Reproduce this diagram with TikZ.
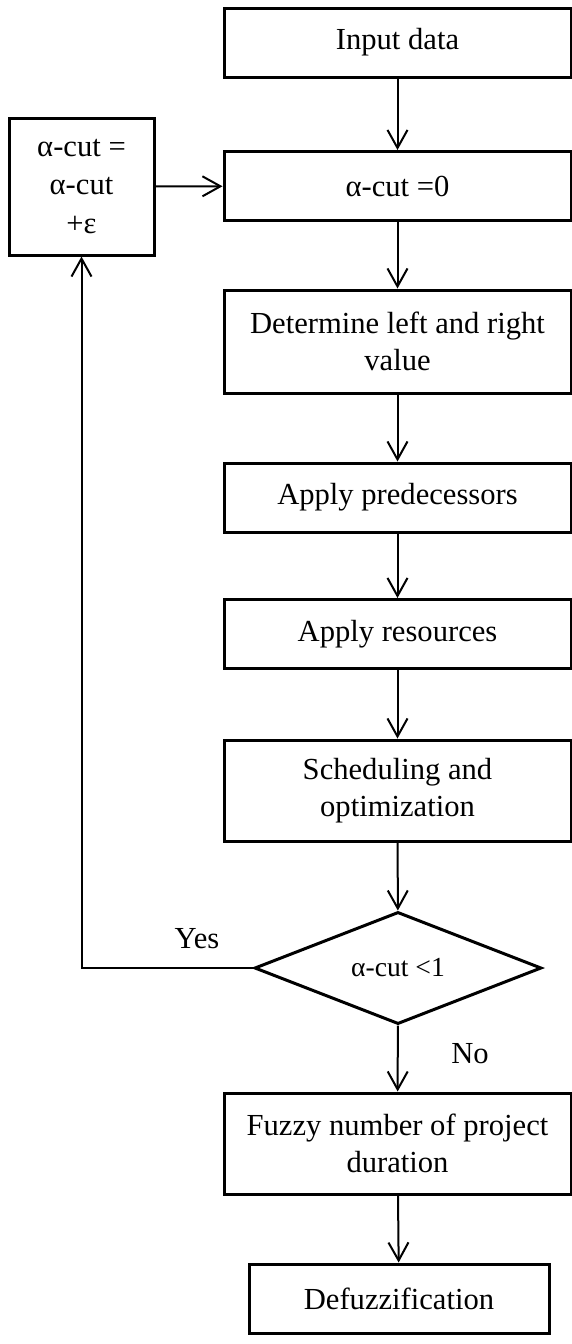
\documentclass[tikz,border=0pt]{standalone}
\usepackage{fontspec}
\setmainfont{Liberation Serif}
\usetikzlibrary{arrows.meta,shapes.geometric}

\begin{document}
\begin{tikzpicture}[x=0.5pt, y=-0.5pt,
    box/.style={draw, line width=1.5pt, minimum width=173.5pt, minimum height=34.5pt,
        align=center, inner sep=2pt, font=\fontsize{15.3}{18.5}\selectfont},
    flow/.style={-{Straight Barb[length=9pt,width=10pt]}, line width=1pt}]
    \useasboundingbox (0, 0) rectangle (572, 1344);

    \node[box] (input) at (397.5, 42.5) {Input data};
    \node[box] (init) at (397.5, 186) {α-cut =0};
    \node[box, minimum width=72.5pt, minimum height=68.5pt, font=\fontsize{15.3}{19.2}\selectfont]
        (update) at (81.5, 186.5) {α-cut =\\α-cut\\+ε};
    \node[box, minimum height=51.5pt] (bounds) at (397.5, 341.5) {Determine left and right\\value};
    \node[box] (preds) at (397.5, 497.5) {Apply predecessors};
    \node[box] (res) at (397.5, 634) {Apply resources};
    \node[box, minimum height=50.5pt] (sched) at (397.5, 790.5) {Scheduling and\\optimization};
    \node[box, diamond, minimum width=143.5pt, minimum height=56pt, inner sep=0pt,
        font=\fontsize{13.8}{16}\selectfont] (check) at (398, 968) {α-cut <1};
    \node[box, minimum height=50.5pt] (fuzzy) at (397.5, 1143.5) {Fuzzy number of project\\duration};
    \node[box, minimum width=150pt] (defuzz) at (399, 1298.5) {Defuzzification};

    % main flow
    \draw[flow] (input) -- (init);
    \draw[flow] (init) -- (bounds);
    \draw[flow] (bounds) -- (preds);
    \draw[flow] (preds) -- (res);
    \draw[flow] (res) -- (sched);
    \draw[flow] (sched) -- (check);
    \draw[flow] (check) -- (fuzzy);
    \draw[flow] (fuzzy) -- (defuzz);

    % loop back while alpha-cut < 1
    \draw[flow] (check.west) -- (check.west -| update.south) -- (update.south);
    \draw[flow] (update) -- (init);

    \node[font=\fontsize{15.3}{18.5}\selectfont] (yes) at (197, 939) {Yes};
    \node[font=\fontsize{15.3}{18.5}\selectfont] (no) at (470, 1054) {No};
\end{tikzpicture}
\end{document}
